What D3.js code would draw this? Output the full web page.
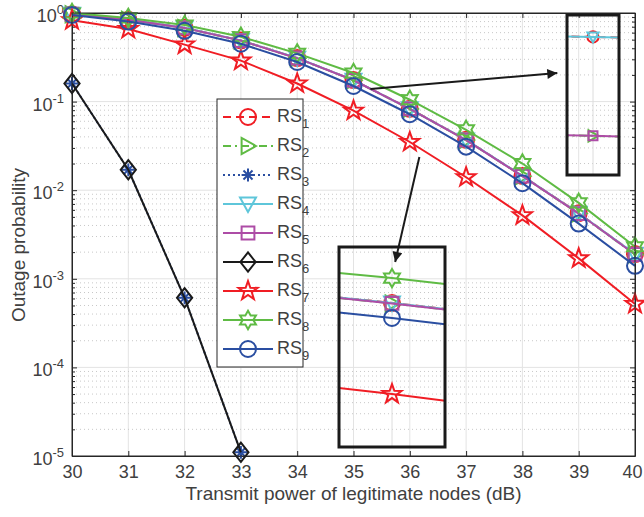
<!DOCTYPE html>
<html>
<head>
<meta charset="utf-8">
<script src="https://cdn.jsdelivr.net/npm/d3@7/dist/d3.min.js"></script>
<style>
  body { margin: 0; background: #fff; }
  svg { display: block; font-family: "Liberation Sans", Arial, sans-serif; }
</style>
</head>
<body>
<div id="chart"></div>
<script>
// data
const powerDb = [30, 31, 32, 33, 34, 35, 36, 37, 38, 39, 40];
const rs1 = [0.97, 0.84, 0.68, 0.49, 0.31, 0.175, 0.083, 0.037, 0.0145, 0.0055, 0.0019];
const rs2 = [0.968, 0.838, 0.678, 0.488, 0.309, 0.174, 0.0826, 0.0368, 0.0144, 0.00545, 0.00188];
const rs3 = [0.16, 0.017, 6.1e-4, 1.1e-5];
const rs4 = rs1.slice();
const rs5 = rs2.slice();
const rs6 = rs3.slice();
const rs7 = [0.83, 0.66, 0.44, 0.29, 0.16, 0.079, 0.035, 0.014, 0.0052, 0.0017, 0.00052];
const rs8 = [1.0, 0.88, 0.73, 0.54, 0.35, 0.21, 0.105, 0.048, 0.020, 0.0072, 0.0023];
const rs9 = [0.95, 0.80, 0.63, 0.45, 0.28, 0.15, 0.072, 0.031, 0.012, 0.0042, 0.0014];
const seriesNames = ['1', '2', '3', '4', '5', '6', '7', '8', '9'];
const xTicks = [30, 31, 32, 33, 34, 35, 36, 37, 38, 39, 40];
const yExponents = [0, -1, -2, -3, -4, -5];

const width = 644;
const height = 517;
const margin = { top: 13, right: 9, bottom: 61, left: 72 };
const innerW = width - margin.left - margin.right;
const innerH = height - margin.top - margin.bottom;
const fontSize = 18;

const red = '#f01d24', green = '#5fbb44', blue = '#2a4ea1', cyan = '#5ec6da',
      magenta = '#ad4ca6', black = '#1a1a1a';

// marker shapes, r is half size
const shapes = {
  circle: r => `M${r},0A${r},${r} 0 1 1 ${-r},0A${r},${r} 0 1 1 ${r},0Z`,
  triRight: r => `M${r},0L${-r * 0.8},${-r}L${-r * 0.8},${r}Z`,
  triDown: r => `M0,${r}L${-r},${-r * 0.8}L${r},${-r * 0.8}Z`,
  square: r => `M${-r * 0.8},${-r * 0.8}H${r * 0.8}V${r * 0.8}H${-r * 0.8}Z`,
  diamond: r => `M0,${-r * 1.2}L${r * 0.95},0L0,${r * 1.2}L${-r * 0.95},0Z`,
  asterisk: r => {
    let p = '';
    for (let k = 0; k < 4; k++) {
      const a = k * Math.PI / 4, c = Math.cos(a) * r * 0.8, s = Math.sin(a) * r * 0.8;
      p += `M${-c},${-s}L${c},${s}`;
    }
    return p;
  },
  pentagram: r => star(5, r * 1.25, r * 0.5),
  hexagram: r => star(6, r * 1.15, r * 0.66)
};
function star(n, ro, ri) {
  const pts = [];
  for (let k = 0; k < 2 * n; k++) {
    const a = -Math.PI / 2 + k * Math.PI / n;
    const rr = k % 2 === 0 ? ro : ri;
    pts.push([Math.cos(a) * rr, Math.sin(a) * rr]);
  }
  return 'M' + pts.map(p => p.join(',')).join('L') + 'Z';
}

const series = [
  { values: rs1, color: red, dash: '8,5', shape: 'circle' },
  { values: rs2, color: green, dash: '8,4,2,4', shape: 'triRight' },
  { values: rs3, color: blue, dash: '2,3', shape: 'asterisk' },
  { values: rs4, color: cyan, dash: null, shape: 'triDown' },
  { values: rs5, color: magenta, dash: null, shape: 'square' },
  { values: rs6, color: black, dash: null, shape: 'diamond' },
  { values: rs7, color: red, dash: null, shape: 'pentagram' },
  { values: rs8, color: green, dash: null, shape: 'hexagram' },
  { values: rs9, color: blue, dash: null, shape: 'circle' }
].map((s, i) => ({ ...s, name: seriesNames[i], points: s.values.map((v, j) => [powerDb[j], v]) }));

const svg = d3.select('#chart').append('svg')
  .attr('width', width).attr('height', height);

const defs = svg.append('defs');
defs.append('marker')
  .attr('id', 'arrowhead')
  .attr('viewBox', '0 0 10 10')
  .attr('refX', 10).attr('refY', 5)
  .attr('markerWidth', 15).attr('markerHeight', 10)
  .attr('markerUnits', 'userSpaceOnUse')
  .attr('orient', 'auto')
  .append('path').attr('d', 'M0,0L10,5L0,10Z').attr('fill', black);

const g = svg.append('g').attr('transform', `translate(${margin.left},${margin.top})`);

const x = d3.scaleLinear().domain([30, 40]).range([0, innerW]);
const y = d3.scaleLog().domain([1e-5, 1]).range([innerH, 0]);

const majorY = yExponents.map(e => Math.pow(10, e));
const minorY = [];
yExponents.slice(1).forEach(e => {
  for (let m = 2; m <= 9; m++) minorY.push(m * Math.pow(10, e));
});

// grid
const grid = g.append('g');
grid.selectAll('.gx').data(xTicks.slice(1, -1)).enter().append('line')
  .attr('x1', d => x(d)).attr('x2', d => x(d))
  .attr('y1', 0).attr('y2', innerH)
  .attr('stroke', '#e3e3e3').attr('stroke-width', 1);
grid.selectAll('.gym').data(minorY).enter().append('line')
  .attr('x1', 0).attr('x2', innerW)
  .attr('y1', d => y(d)).attr('y2', d => y(d))
  .attr('stroke', '#c8c8c8').attr('stroke-width', 1).attr('stroke-dasharray', '1,3');
grid.selectAll('.gy').data(majorY.slice(1, -1)).enter().append('line')
  .attr('x1', 0).attr('x2', innerW)
  .attr('y1', d => y(d)).attr('y2', d => y(d))
  .attr('stroke', '#e3e3e3').attr('stroke-width', 1);

// axes (ticks inward)
const axisColor = '#262626';
const labelColor = '#404040';
function styleAxis(sel) {
  sel.select('.domain').attr('stroke', axisColor).attr('stroke-width', 1);
  sel.selectAll('.tick line').attr('stroke', axisColor);
  sel.selectAll('text').attr('fill', labelColor).style('font-size', fontSize + 'px')
    .style('font-family', '"Liberation Sans", Arial, sans-serif');
}
const xAxisG = g.append('g').attr('transform', `translate(0,${innerH})`)
  .call(d3.axisBottom(x).tickValues(xTicks).tickFormat(d3.format('d')).tickSizeInner(-5).tickSizeOuter(0).tickPadding(9))
  .call(styleAxis);
// last label sits at the window edge, keep it inside
xAxisG.selectAll('.tick text').filter(d => d === 40).attr('dx', -3);
g.append('g')
  .call(d3.axisTop(x).tickValues(xTicks).tickFormat('').tickSizeInner(-5).tickSizeOuter(0))
  .call(styleAxis);
g.append('g')
  .call(d3.axisLeft(y).tickValues(majorY).tickFormat('').tickSizeInner(-5).tickSizeOuter(0))
  .call(styleAxis);
g.append('g')
  .call(d3.axisLeft(y).tickValues(minorY).tickFormat('').tickSizeInner(-3).tickSizeOuter(0))
  .call(styleAxis).select('.domain').remove();
g.append('g').attr('transform', `translate(${innerW},0)`)
  .call(d3.axisRight(y).tickValues(majorY).tickFormat('').tickSizeInner(-5).tickSizeOuter(0))
  .call(styleAxis);
g.append('g').attr('transform', `translate(${innerW},0)`)
  .call(d3.axisRight(y).tickValues(minorY).tickFormat('').tickSizeInner(-3).tickSizeOuter(0))
  .call(styleAxis).select('.domain').remove();

// y tick labels as 10^n
const yLab = g.append('g');
yExponents.forEach(e => {
  const t = yLab.append('text')
    .attr('x', -8).attr('y', y(Math.pow(10, e)) + 9)
    .attr('text-anchor', 'end').attr('fill', labelColor)
    .style('font-size', fontSize + 'px');
  t.append('tspan').text('10');
  t.append('tspan').attr('dy', -8).style('font-size', '13px').text(e);
});

// axis titles
svg.append('text')
  .attr('x', margin.left + innerW / 2).attr('y', 500)
  .attr('text-anchor', 'middle').attr('fill', labelColor)
  .style('font-size', '19px')
  .text('Transmit power of legitimate nodes (dB)');
svg.append('text')
  .attr('transform', 'translate(25,245) rotate(-90)')
  .attr('text-anchor', 'middle').attr('fill', labelColor)
  .style('font-size', '19px')
  .text('Outage probability');

// plot series
function drawSeries(parent, xs, ys, scale, clipId) {
  const line = d3.line().x(d => xs(d[0])).y(d => ys(d[1]));
  series.forEach(s => {
    const sg = parent.append('g');
    sg.append('path')
      .attr('d', line(s.points))
      .attr('fill', 'none')
      .attr('stroke', s.color)
      .attr('stroke-width', 2)
      .attr('stroke-dasharray', s.dash)
      .attr('clip-path', clipId ? `url(#${clipId})` : null);
    sg.selectAll('path.mk').data(s.points).enter().append('path')
      .attr('class', 'mk')
      .attr('transform', d => `translate(${xs(d[0])},${ys(d[1])})`)
      .attr('d', shapes[s.shape](8 * scale))
      .attr('fill', 'none')
      .attr('stroke', s.color)
      .attr('stroke-width', 2);
  });
}

defs.append('clipPath').attr('id', 'mainClip')
  .append('rect').attr('x', 0).attr('y', 0).attr('width', innerW).attr('height', innerH);
// lines clipped, markers not
drawSeries(g.append('g'), x, y, 1, 'mainClip');

g.append('rect')
  .attr('width', innerW).attr('height', innerH)
  .attr('fill', 'none').attr('stroke', axisColor).attr('stroke-width', 1);

// arrows pointing to insets, in data coordinates
const arrows = [
  { from: [35.3, 0.139], to: [38.62, 0.21] },
  { from: [36.17, 0.0237], to: [35.74, 0.00155] }
];
g.selectAll('.arrow').data(arrows).enter().append('line')
  .attr('x1', d => x(d.from[0])).attr('y1', d => y(d.from[1]))
  .attr('x2', d => x(d.to[0])).attr('y2', d => y(d.to[1]))
  .attr('stroke', black).attr('stroke-width', 2)
  .attr('marker-end', 'url(#arrowhead)');

// insets (transparent, main grid shows through)
function drawInset(id, box, xDomain, yDomain, mScale) {
  const ig = svg.append('g').attr('transform', `translate(${box.x},${box.y})`);
  const ix = d3.scaleLinear().domain(xDomain).range([0, box.w]);
  const iy = d3.scaleLog().domain(yDomain).range([box.h, 0]);
  defs.append('clipPath').attr('id', id)
    .append('rect').attr('width', box.w).attr('height', box.h);
  const inner = ig.append('g').attr('clip-path', `url(#${id})`);
  inner.append('line')
    .attr('x1', ix(box.gridX)).attr('x2', ix(box.gridX))
    .attr('y1', 0).attr('y2', box.h)
    .attr('stroke', '#dcdcdc').attr('stroke-width', 1);
  drawSeries(inner, ix, iy, mScale, null);
  ig.append('rect')
    .attr('width', box.w).attr('height', box.h)
    .attr('fill', 'none').attr('stroke', black).attr('stroke-width', 3);
}
drawInset('insetA', { x: 567, y: 15, w: 52, h: 160, gridX: 35 },
  [34.99995, 35.00005], [0.173606, 0.175222], 0.7);
drawInset('insetB', { x: 339, y: 247, w: 106, h: 200, gridX: 36 },
  [35.93, 36.07], [0.0212, 0.141], 1);

// legend
const legend = svg.append('g').attr('transform', 'translate(217,99)');
const rowH = 29;
legend.append('rect')
  .attr('width', 86).attr('height', 18 * 2 + rowH * 8)
  .attr('fill', '#fff').attr('stroke', axisColor).attr('stroke-width', 1);
const rows = legend.selectAll('.row').data(series).enter().append('g')
  .attr('transform', (d, i) => `translate(0,${18 + i * rowH})`);
rows.append('line')
  .attr('x1', 6).attr('x2', 56)
  .attr('stroke', d => d.color).attr('stroke-width', 2)
  .attr('stroke-dasharray', d => d.dash);
rows.append('path')
  .attr('transform', 'translate(31,0)')
  .attr('d', d => shapes[d.shape](8))
  .attr('fill', 'none').attr('stroke', d => d.color).attr('stroke-width', 2);
const lt = rows.append('text')
  .attr('x', 60).attr('y', 5)
  .attr('fill', labelColor).style('font-size', fontSize + 'px');
lt.append('tspan').text('RS');
lt.append('tspan').attr('dy', 6).style('font-size', '13px').text(d => d.name);
</script>
</body>
</html>
